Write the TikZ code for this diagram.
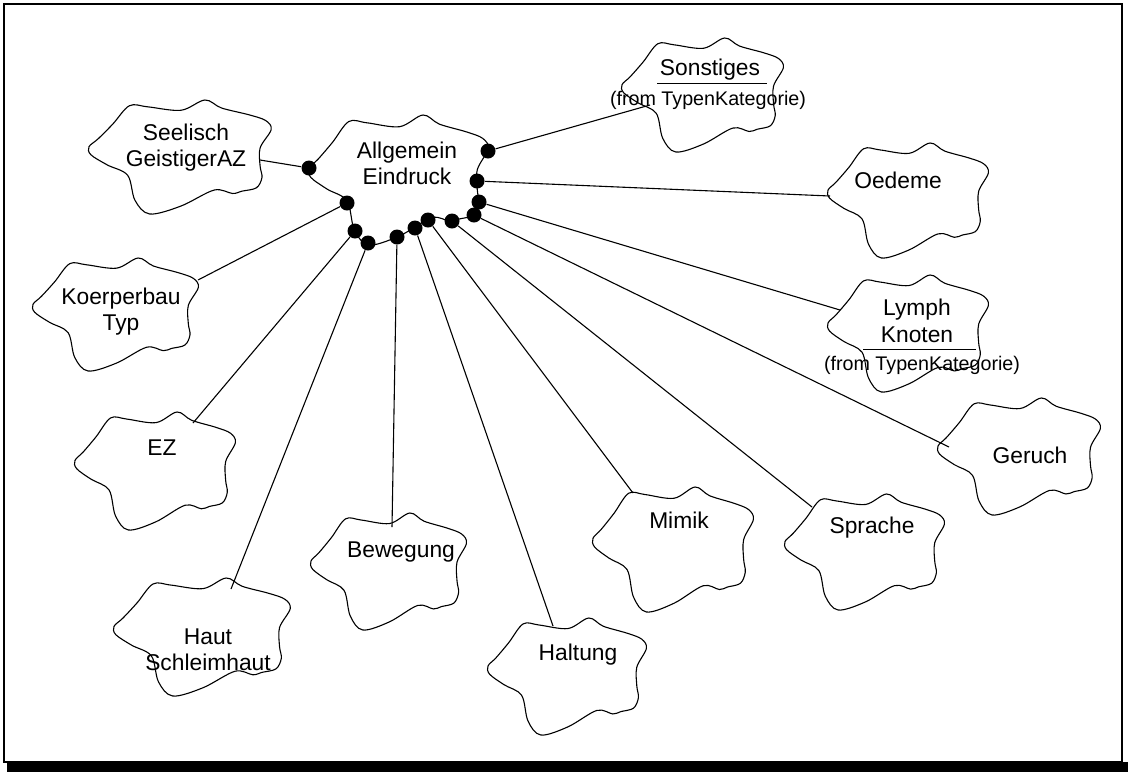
\documentclass[tikz,border=0pt]{standalone}
\usepackage{fontspec}
\setmainfont{Liberation Sans}
% cloud outline of a class icon, drawn in the box (x0,y0) of size w x h
\newcommand{\rosecloud}[4]{%
  \begin{scope}[shift={(#1,#2)}, xscale=#3, yscale=#4]
    \draw[cloudline] plot[smooth cycle, tension=0.55] coordinates {
      (0.22,0.05) (0.32,0.06) (0.50,0.09) (0.63,0.00) (0.72,0.07)
      (0.87,0.13) (0.96,0.18) (0.99,0.26) (0.93,0.42) (0.93,0.58)
      (0.94,0.68) (0.91,0.77) (0.83,0.80) (0.78,0.82) (0.68,0.79)
      (0.50,0.93) (0.33,1.00) (0.25,0.88) (0.21,0.66) (0.10,0.57)
      (0.01,0.48) (0.00,0.41) (0.05,0.34) (0.13,0.21)};
  \end{scope}}
\begin{document}
\begin{tikzpicture}[x=0.5pt,y=-0.5pt,
  cloudline/.style={draw=black, line width=0.55pt},
  conn/.style={draw=black, line width=0.55pt},
  dotnode/.style={circle, fill=black, inner sep=0pt, minimum size=7.5pt},
  lbl/.style={inner sep=0pt, anchor=base, font=\fontsize{11.4}{13}\selectfont},
  small/.style={inner sep=0pt, anchor=base, font=\fontsize{9.85}{12}\selectfont},
  rule/.style={draw=black, line width=0.5pt}]
\useasboundingbox (0,0) rectangle (1128,772);

% frame with its shadow
\draw[line width=1pt] (4,4) rectangle (1122,762);
\fill[black] (7,762) rectangle (1128,772);

% clouds
\rosecloud{89}{100}{184}{114}   % Seelisch
\rosecloud{309}{115}{181}{130}  % Allgemein
\rosecloud{622}{38}{163}{114}   % Sonstiges
\rosecloud{828}{143}{162}{115}  % Oedeme
\rosecloud{828}{275}{162}{117}  % Lymph
\rosecloud{938}{398}{164}{117}  % Geruch
\rosecloud{785}{494}{161}{116}  % Sprache
\rosecloud{593}{487}{162}{125}  % Mimik
\rosecloud{488}{618}{160}{117}  % Haltung
\rosecloud{311}{513}{157}{117}  % Bewegung
\rosecloud{114}{578}{178}{118}  % Haut
\rosecloud{75}{412}{162}{118}   % EZ
\rosecloud{33}{258}{167}{113}   % Koerperbau

% labels
\node[lbl] (allgA) at (407,158) {Allgemein};
\node[lbl] (allgB) at (407,184) {Eindruck};
\node[lbl] (seeA) at (186,140) {Seelisch};
\node[lbl] (seeB) at (186,166) {GeistigerAZ};
\node[lbl] (sonA) at (710,75) {Sonstiges};
\node[small] (sonB) at (708,105) {(from TypenKategorie)};
\draw[rule] (657,83) -- (767,83);
\node[lbl] (oed) at (898,188) {Oedeme};
\node[lbl] (lymA) at (917,315) {Lymph};
\node[lbl] (lymB) at (917,342) {Knoten};
\draw[rule] (863,349) -- (976,349);
\node[small] (lymC) at (922,370) {(from TypenKategorie)};
\node[lbl] (ger) at (1030,463) {Geruch};
\node[lbl] (spr) at (872,533) {Sprache};
\node[lbl] (mim) at (679,528) {Mimik};
\node[lbl] (hal) at (578,660) {Haltung};
\node[lbl] (bew) at (401,557) {Bewegung};
\node[lbl] (hauA) at (208,644) {Haut};
\node[lbl] (hauB) at (208,670) {Schleimhaut};
\node[lbl] (ez) at (162,455) {EZ};
\node[lbl] (koeA) at (121,304) {Koerperbau};
\node[lbl] (koeB) at (121,330) {Typ};

% association ends on the central cloud
\node[dotnode] (dSee) at (309,168) {};
\node[dotnode] (dKoe) at (347,203) {};
\node[dotnode] (dEZ)  at (355,231) {};
\node[dotnode] (dHau) at (368,243) {};
\node[dotnode] (dBew) at (397,237) {};
\node[dotnode] (dHal) at (415,228) {};
\node[dotnode] (dMim) at (428,220) {};
\node[dotnode] (dSpr) at (452,221) {};
\node[dotnode] (dGer) at (474,215) {};
\node[dotnode] (dLym) at (479,202) {};
\node[dotnode] (dOed) at (477,181) {};
\node[dotnode] (dSon) at (488,151) {};

% association ends on the outer clouds
\coordinate (eSee) at (260,160);
\coordinate (eKoe) at (198,280);
\coordinate (eEZ)  at (193,423);
\coordinate (eHau) at (231,589);
\coordinate (eBew) at (392,527);
\coordinate (eHal) at (553,626);
\coordinate (eMim) at (633,493);
\coordinate (eSpr) at (812,507);
\coordinate (eGer) at (949,447);
\coordinate (eLym) at (840,310);
\coordinate (eOed) at (830,196);
\coordinate (eSon) at (650,105);

\foreach \n in {See,Koe,EZ,Hau,Bew,Hal,Mim,Spr,Ger,Lym,Oed,Son}
  \draw[conn] (d\n) -- (e\n);
\end{tikzpicture}
\end{document}
